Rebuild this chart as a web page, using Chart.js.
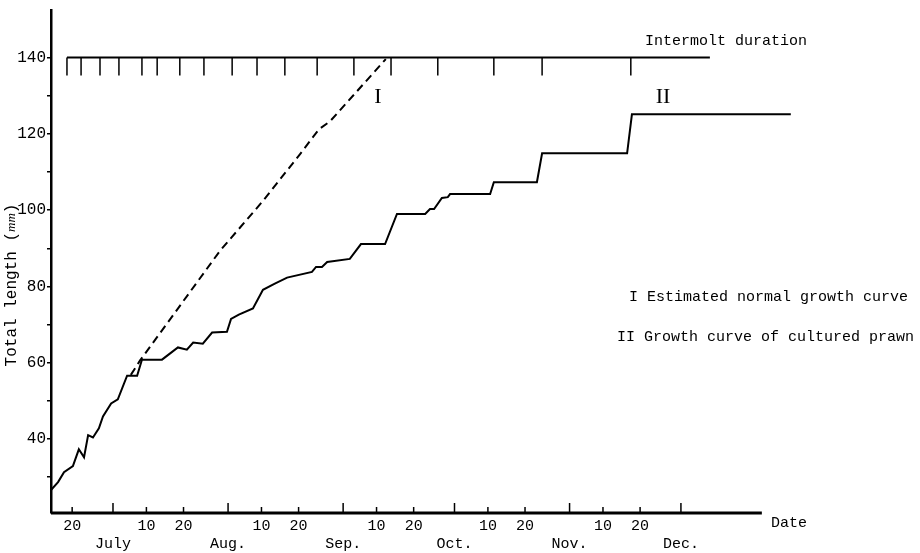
<!DOCTYPE html>
<html>
<head>
<meta charset="utf-8">
<script src="https://cdn.jsdelivr.net/npm/chart.js@4"></script>
<style>
  html, body { margin: 0; padding: 0; background: #fff; }
  #wrap { width: 920px; height: 553px; position: relative; }
</style>
</head>
<body>
<div id="wrap"><canvas id="growthChart"></canvas></div>
<script>
// x values are days counted from 1 July (0 = Jul 1)
const growthDays = [-16.7, -14.8, -13.2, -10.8, -9.2, -7.8, -6.7, -5.4, -3.8, -2.7,
  -0.5, 1.3, 3.8, 6.5, 7.8, 13.2, 17.5, 19.9, 21.6, 24.2,
  26.7, 30.7, 31.8, 33.9, 37.7, 40.4, 43.6, 46.9, 53.6, 54.7,
  56.3, 57.7, 63.8, 66.8, 73.3, 76.5, 84.1, 85.4, 86.5, 88.6,
  90.2, 90.8, 101.6, 102.6, 114.2, 115.6, 138.5, 139.8, 182.6];
const growthLength = [26.6, 28.7, 31.3, 32.9, 37.3, 35.2, 41.0, 40.4, 42.8, 45.9,
  49.3, 50.4, 56.6, 56.6, 60.8, 60.8, 64.0, 63.4, 65.3, 65.0,
  67.9, 68.1, 71.5, 72.6, 74.2, 79.1, 80.7, 82.3, 83.8, 85.1,
  85.1, 86.4, 87.2, 91.1, 91.1, 99.0, 99.0, 100.3, 100.3, 103.2,
  103.4, 104.2, 104.2, 107.3, 107.3, 114.9, 114.9, 125.1, 125.1];

const normalDays = [4.8, 7.3, 28.8, 40.4, 50.4, 55.5, 58.5, 73.5];
const normalLength = [56.8, 60.6, 89.3, 102.4, 114.7, 121.2, 123.3, 139.6];

const moltDays = [-12.4, -8.6, -3.5, 1.6, 7.8, 11.9, 18.0, 24.5, 32.1, 38.8,
  46.3, 55.0, 64.9, 74.9, 87.5, 102.6, 115.6, 139.5];
const intermoltSpan = [-12.4, 160.8];
const intermoltLevel = 140;
const moltTickBottom = 135.3;

const yTickValues = [30, 40, 50, 60, 70, 80, 90, 100, 110, 120, 130, 140];
const dayTickDays = [-11, 9, 19, 40, 50, 71, 81, 101, 111, 132, 142];
const dayTickLabels = ["20", "10", "20", "10", "20", "10", "20", "10", "20", "10", "20"];
const monthStartDays = [0, 31, 62, 92, 123, 153];
const monthNames = ["July", "Aug.", "Sep.", "Oct.", "Nov.", "Dec."];
const axisEndDay = 174.8;

const MONO = '"Liberation Mono", "DejaVu Sans Mono", monospace';

const allXTicks = dayTickDays.concat(monthStartDays).sort((a, b) => a - b);

const decorations = {
  id: "decorations",
  afterDatasetsDraw(chart) {
    const { ctx, chartArea, scales: { x } } = chart;
    const base = chartArea.bottom;
    ctx.save();
    ctx.strokeStyle = "#000";
    ctx.fillStyle = "#000";

    // x axis line and inward ticks
    ctx.lineWidth = 3;
    ctx.beginPath();
    ctx.moveTo(chartArea.left, base);
    ctx.lineTo(x.getPixelForValue(axisEndDay), base);
    ctx.stroke();
    ctx.lineWidth = 1.5;
    dayTickDays.forEach(d => {
      const px = x.getPixelForValue(d);
      ctx.beginPath(); ctx.moveTo(px, base); ctx.lineTo(px, base - 6); ctx.stroke();
    });
    monthStartDays.forEach(d => {
      const px = x.getPixelForValue(d);
      ctx.beginPath(); ctx.moveTo(px, base); ctx.lineTo(px, base - 10); ctx.stroke();
    });

    // text notes
    ctx.textBaseline = "middle";
    ctx.textAlign = "left";
    ctx.font = "15px " + MONO;
    ctx.fillText("Date", 771, 523);
    ctx.fillText("Intermolt duration", 645, 41);
    ctx.fillText("I Estimated normal growth curve", 629, 297);
    ctx.fillText("II Growth curve of cultured prawn", 617, 337);

    ctx.textAlign = "center";
    ctx.font = '22px "Liberation Serif", serif';
    ctx.fillText("I", 378, 97);
    ctx.fillText("II", 663, 97);

    // y axis title, rotated
    ctx.translate(12, 285);
    ctx.rotate(-Math.PI / 2);
    ctx.textAlign = "left";
    const parts = [
      ["Total length (", "16px " + MONO],
      ["mm", 'italic 13px "Liberation Serif", serif'],
      [")", "16px " + MONO]
    ];
    let total = 0;
    parts.forEach(p => { ctx.font = p[1]; total += ctx.measureText(p[0]).width; });
    let cx = -total / 2;
    parts.forEach(p => {
      ctx.font = p[1];
      ctx.fillText(p[0], cx, 0);
      cx += ctx.measureText(p[0]).width;
    });
    ctx.restore();
  }
};

const ctx = document.getElementById("growthChart").getContext("2d");
new Chart(ctx, {
  type: "line",
  data: {
    datasets: [
      {
        label: "II Growth curve of cultured prawn",
        data: growthDays.map((d, i) => ({ x: d, y: growthLength[i] })),
        borderColor: "#000",
        borderWidth: 2,
        pointRadius: 0,
        tension: 0
      },
      {
        label: "I Estimated normal growth curve",
        data: normalDays.map((d, i) => ({ x: d, y: normalLength[i] })),
        borderColor: "#000",
        borderWidth: 2,
        borderDash: [8, 5],
        pointRadius: 0,
        tension: 0
      },
      {
        label: "Intermolt duration",
        data: intermoltSpan.map(d => ({ x: d, y: intermoltLevel })),
        borderColor: "#000",
        borderWidth: 2,
        pointRadius: 0
      },
      {
        label: "Molts",
        data: moltDays.flatMap(d => [
          { x: d, y: intermoltLevel },
          { x: d, y: moltTickBottom },
          { x: d, y: null }
        ]),
        borderColor: "#000",
        borderWidth: 1.5,
        pointRadius: 0,
        spanGaps: false
      }
    ]
  },
  options: {
    responsive: true,
    maintainAspectRatio: false,
    animation: false,
    layout: { padding: { top: 9, right: 124, bottom: 0, left: 0 } },
    plugins: { legend: { display: false }, tooltip: { enabled: false } },
    scales: {
      x: {
        type: "linear",
        min: -16.7,
        max: 184,
        afterBuildTicks: s => { s.ticks = allXTicks.map(v => ({ value: v })); },
        afterFit: s => { s.height = 40; },
        grid: { display: false, drawTicks: false },
        border: { display: false },
        ticks: {
          autoSkip: false,
          maxRotation: 0,
          minRotation: 0,
          padding: 4,
          color: "#000",
          font: { family: MONO, size: 15 },
          callback: value => {
            const m = monthStartDays.indexOf(value);
            if (m >= 0) return ["", monthNames[m]];
            const d = dayTickDays.indexOf(value);
            return d >= 0 ? dayTickLabels[d] : "";
          }
        }
      },
      y: {
        min: 20.6,
        max: 152.3,
        afterBuildTicks: s => { s.ticks = yTickValues.map(v => ({ value: v })); },
        afterFit: s => { s.width = 51; },
        grid: { drawOnChartArea: false, drawTicks: true, tickLength: 4, color: "#000", lineWidth: 1.5 },
        border: { display: true, color: "#000", width: 2.5 },
        ticks: {
          padding: 1,
          color: "#000",
          font: { family: MONO, size: 16 },
          callback: v => (v % 20 === 0 ? String(v) : "")
        }
      }
    }
  },
  plugins: [decorations]
});
</script>
</body>
</html>
